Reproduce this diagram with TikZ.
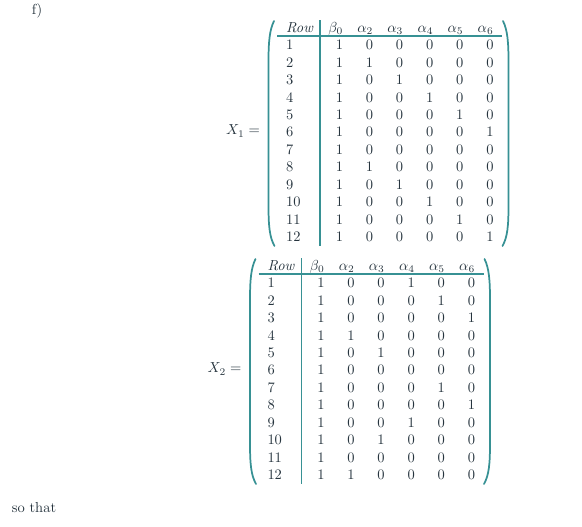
\documentclass[tikz,border=0pt]{standalone}
\usepackage{amsmath}
\definecolor{ink}{RGB}{38,52,62}
\definecolor{rulec}{RGB}{55,145,148}
\tikzset{
  txt/.style={inner sep=0pt,outer sep=0pt,text=ink},
  cell/.style={txt,anchor=base east},
  lab/.style={txt,anchor=base west},
  hrule/.style={draw=rulec,line width=0.9pt},
  paren/.style={draw=rulec,line width=1.2pt,line cap=round},
}
\newcommand\designmat[3]{%
  % #1 prefix, #2 label, #3 data
  \node[txt,anchor=east] (#1-lab) at (260,131) {$#2 =$};
  \node[lab] (#1-hrow) at (286,32) {\textit{Row}};
  \foreach \h [count=\j] in {\beta_0,\alpha_2,\alpha_3,\alpha_4,\alpha_5,\alpha_6}{
    \pgfmathsetmacro\xx{343+30.1*(\j-1)}
    \node[cell] (#1-h\j) at (\xx,32) {$\h$};
  }
  \foreach \row [count=\i] in {#3}{
    \pgfmathsetmacro\yy{49.7+17.45*(\i-1)}
    \node[lab] (#1-r\i) at (286,\yy) {\i};
    \foreach \v [count=\j] in \row {
      \pgfmathsetmacro\xx{343+30.1*(\j-1)}
      \node[cell] (#1-r\i-c\j) at (\xx,\yy) {\v};
    }
  }
  \draw[hrule] (320,20) -- (320,246);
  \draw[hrule] (277,36) -- (502,36);
  \draw[paren] (274,21) .. controls (269.5,30) and (268.5,42) .. (268.5,62) -- (268.5,205) .. controls (268.5,226) and (269.5,237) .. (274.5,246);
  \draw[paren] (503,21) .. controls (507.5,30) and (508.5,42) .. (508.5,62) -- (508.5,205) .. controls (508.5,226) and (507.5,237) .. (502.5,246);
}
\begin{document}
\begin{tikzpicture}[x=0.69pt,y=-0.69pt]
\useasboundingbox (0,0) rectangle (582,526);
\node[txt] (f) at (37,11) {f)};
\designmat{A}{X_1}{{1,0,0,0,0,0},{1,1,0,0,0,0},{1,0,1,0,0,0},{1,0,0,1,0,0},{1,0,0,0,1,0},{1,0,0,0,0,1},{1,0,0,0,0,0},{1,1,0,0,0,0},{1,0,1,0,0,0},{1,0,0,1,0,0},{1,0,0,0,1,0},{1,0,0,0,0,1}}
\begin{scope}[shift={(-18.5,238)}]
\designmat{B}{X_2}{{1,0,0,1,0,0},{1,0,0,0,1,0},{1,0,0,0,0,1},{1,1,0,0,0,0},{1,0,1,0,0,0},{1,0,0,0,0,0},{1,0,0,0,1,0},{1,0,0,0,0,1},{1,0,0,1,0,0},{1,0,1,0,0,0},{1,0,0,0,0,0},{1,1,0,0,0,0}}
\end{scope}
\node[txt] (so) at (34,508) {so that};
\end{tikzpicture}
\end{document}
